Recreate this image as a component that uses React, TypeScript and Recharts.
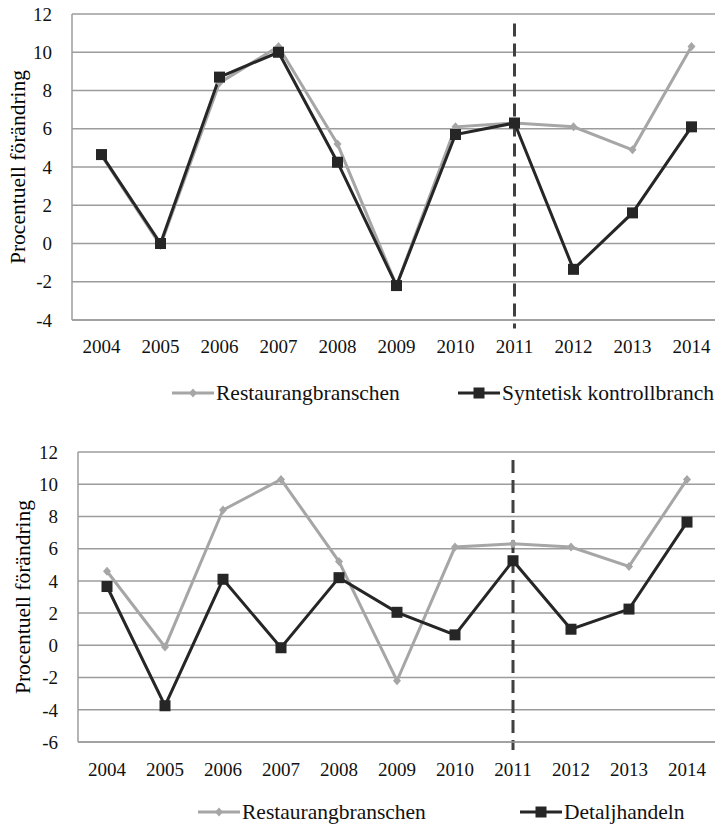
import React from "react";
import {
  LineChart,
  Line,
  XAxis,
  YAxis,
  CartesianGrid,
  ReferenceLine,
  Legend,
  Label,
} from "recharts";

const years = ["2004", "2005", "2006", "2007", "2008", "2009", "2010", "2011", "2012", "2013", "2014"];
const restaurang = [4.6, -0.1, 8.4, 10.3, 5.2, -2.2, 6.1, 6.3, 6.1, 4.9, 10.3];
const syntetisk = [4.65, 0.0, 8.7, 10.0, 4.25, -2.2, 5.7, 6.3, -1.35, 1.6, 6.1];
const detaljhandeln = [3.65, -3.75, 4.1, -0.15, 4.2, 2.05, 0.65, 5.25, 1.0, 2.25, 7.65];

const topTicks = [-4, -2, 0, 2, 4, 6, 8, 10, 12];
const bottomTicks = [-6, -4, -2, 0, 2, 4, 6, 8, 10, 12];

const yLabel = "Procentuell förändring";
const nameResta = "Restaurangbranschen";
const nameSyn = "Syntetisk kontrollbranch";
const nameDet = "Detaljhandeln";

const topData = years.map((y, i) => ({ year: y, a: restaurang[i], b: syntetisk[i] }));
const bottomData = years.map((y, i) => ({ year: y, a: restaurang[i], b: detaljhandeln[i] }));

const FONT = "'Liberation Serif', 'DejaVu Serif', serif";
const GRAY = "#a6a6a6";
const BLACK = "#262626";
const GRID = "#9c9c9c";

const Diamond = (props: any) => {
  const { cx, cy } = props;
  if (cx == null || cy == null) return null;
  return (
    <path
      d={`M${cx},${cy - 4.5}L${cx + 4},${cy}L${cx},${cy + 4.5}L${cx - 4},${cy}Z`}
      fill={GRAY}
      stroke="none"
    />
  );
};

const Square = (props: any) => {
  const { cx, cy } = props;
  if (cx == null || cy == null) return null;
  return <rect x={cx - 5.5} y={cy - 5.5} width={11} height={11} fill={BLACK} />;
};

const YLab = (labelX: number) => (props: any) => {
  const { viewBox } = props;
  const cy = viewBox.y + viewBox.height / 2;
  return (
    <text
      x={labelX}
      y={cy}
      transform={`rotate(-90, ${labelX}, ${cy})`}
      textAnchor="middle"
      dominantBaseline="central"
      fill="#000"
      style={{ fontFamily: FONT, fontSize: 21.5 }}
    >
      {yLabel}
    </text>
  );
};

// legend items sit at fixed x offsets, like the Excel original
const makeLegend = (items: { name: string; kind: string; x: number }[]) => () => (
  <div style={{ position: "relative", height: 30, fontFamily: FONT, fontSize: 21.5 }}>
    {items.map((it) => (
      <div
        key={it.name}
        style={{ position: "absolute", left: it.x, top: 0, height: 30, display: "flex", alignItems: "center" }}
      >
        <svg width={42} height={14} style={{ display: "block" }}>
          <line x1={0} y1={7} x2={42} y2={7} stroke={it.kind === "gray" ? GRAY : BLACK} strokeWidth={3} />
          {it.kind === "gray" ? (
            <path d="M21,2.5L25,7L21,11.5L17,7Z" fill={GRAY} />
          ) : (
            <rect x={15.5} y={1.5} width={11} height={11} fill={BLACK} />
          )}
        </svg>
        <span style={{ marginLeft: 2, whiteSpace: "nowrap", color: "#111" }}>{it.name}</span>
      </div>
    ))}
  </div>
);

const tickStyle = { fontFamily: FONT, fontSize: 19, fill: "#111" };

export default function App() {
  return (
    <div style={{ position: "fixed", left: 0, top: 0, width: 715, height: 827, overflow: "hidden", background: "#fff" }}>
      <div style={{ position: "absolute", left: 0, top: 0 }}>
        <LineChart width={721} height={415} data={topData} margin={{ top: 14, right: 0, left: 0, bottom: 7 }}>
          <CartesianGrid vertical={false} stroke={GRID} strokeWidth={1.5} />
          <XAxis
            dataKey="year"
            height={58}
            padding={{ left: 29.5, right: 29.5 }}
            tickLine={false}
            tickSize={0}
            tickMargin={20}
            axisLine={{ stroke: GRID, strokeWidth: 1.5 }}
            tick={tickStyle}
            interval={0}
          />
          <YAxis
            width={72}
            domain={[-4, 12]}
            ticks={topTicks}
            tickLine={false}
            tickSize={0}
            tickMargin={20}
            axisLine={{ stroke: GRID, strokeWidth: 1.5 }}
            tick={tickStyle}
          >
            <Label content={YLab(18)} />
          </YAxis>
          <ReferenceLine
            segment={[{ x: "2011", y: 11.5 }, { x: "2011", y: -4.45 }]}
            stroke="#404040"
            strokeWidth={3}
            strokeDasharray="13 7"
            ifOverflow="visible"
          />
          <Line dataKey="a" name={nameResta} stroke={GRAY} strokeWidth={3} dot={<Diamond />} isAnimationActive={false} />
          <Line dataKey="b" name={nameSyn} stroke={BLACK} strokeWidth={3} dot={<Square />} isAnimationActive={false} />
          <Legend
            verticalAlign="bottom"
            content={makeLegend([
              { name: nameResta, kind: "gray", x: 172 },
              { name: nameSyn, kind: "black", x: 458 },
            ])}
          />
        </LineChart>
      </div>
      <div style={{ position: "absolute", left: 0, top: 420 }}>
        <LineChart width={716} height={407} data={bottomData} margin={{ top: 32, right: 0, left: 0, bottom: 0 }}>
          <CartesianGrid vertical={false} stroke={GRID} strokeWidth={1.5} />
          <XAxis
            dataKey="year"
            height={55}
            padding={{ left: 29, right: 29 }}
            tickLine={false}
            tickSize={0}
            tickMargin={21}
            axisLine={{ stroke: GRID, strokeWidth: 1.5 }}
            tick={tickStyle}
            interval={0}
          />
          <YAxis
            width={78}
            domain={[-6, 12]}
            ticks={bottomTicks}
            tickLine={false}
            tickSize={0}
            tickMargin={20}
            axisLine={{ stroke: GRID, strokeWidth: 1.5 }}
            tick={tickStyle}
          >
            <Label content={YLab(23)} />
          </YAxis>
          <ReferenceLine
            segment={[{ x: "2011", y: 11.5 }, { x: "2011", y: -6.5 }]}
            stroke="#404040"
            strokeWidth={3}
            strokeDasharray="13 7"
            ifOverflow="visible"
          />
          <Line dataKey="a" name={nameResta} stroke={GRAY} strokeWidth={3} dot={<Diamond />} isAnimationActive={false} />
          <Line dataKey="b" name={nameDet} stroke={BLACK} strokeWidth={3} dot={<Square />} isAnimationActive={false} />
          <Legend
            verticalAlign="bottom"
            content={makeLegend([
              { name: nameResta, kind: "gray", x: 198 },
              { name: nameDet, kind: "black", x: 520 },
            ])}
          />
        </LineChart>
      </div>
    </div>
  );
}
